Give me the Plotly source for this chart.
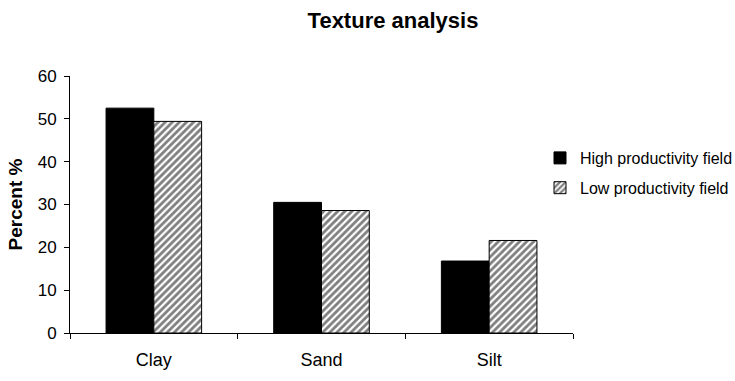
import plotly.graph_objects as go

# Soil texture fractions (percent) for two fields
categories = ["Clay", "Sand", "Silt"]
high_productivity = [52.5, 30.5, 16.8]
low_productivity = [49.4, 28.6, 21.6]
series_names = ["High productivity field", "Low productivity field"]

FONT = "Liberation Sans, Arial, sans-serif"

fig = go.Figure()
fig.add_trace(go.Bar(
    x=categories, y=high_productivity, name=series_names[0],
    legendgroup="a",
    marker=dict(color="black", line=dict(color="black", width=1)),
))
fig.add_trace(go.Bar(
    x=categories, y=low_productivity, name=series_names[1],
    legendgroup="b",
    marker=dict(
        color="white",
        line=dict(color="black", width=1),
        pattern=dict(shape="/", fgcolor="black", bgcolor="white",
                     size=5, solidity=0.55, fillmode="overlay"),
    ),
))

fig.update_layout(
    width=735, height=381,
    margin=dict(l=70, r=162, t=76, b=48, autoexpand=False),
    paper_bgcolor="white", plot_bgcolor="white",
    font=dict(family=FONT, size=16, color="black"),
    barmode="group", bargap=0.43, bargroupgap=0,
    showlegend=True,
    title=dict(text="<b>Texture analysis</b>", x=393 / 735, xref="container",
               xanchor="center", y=1 - 20 / 381, yanchor="middle",
               font=dict(family=FONT, size=22, color="black")),
    legend=dict(x=540 / 735, xref="container", y=1 - 141 / 381, yref="container",
                xanchor="left", yanchor="top", traceorder="grouped",
                tracegroupgap=6, font=dict(family=FONT, size=16),
                itemwidth=30, bgcolor="rgba(0,0,0,0)"),
)

fig.update_xaxes(
    showline=True, linecolor="black", linewidth=1,
    ticks="outside", tickson="boundaries", ticklen=5, tickcolor="black",
    showgrid=False, ticklabelstandoff=10,
    tickfont=dict(family=FONT, size=18),
)
fig.update_yaxes(
    range=[0, 60], dtick=10, showline=True, linecolor="black", linewidth=1,
    ticks="outside", ticklen=5, tickcolor="black", showgrid=False,
    zeroline=False, ticklabelstandoff=4, tickfont=dict(family=FONT, size=17),
    title=dict(text="<b>Percent %</b>", font=dict(family=FONT, size=19), standoff=10),
)

fig.write_html("out.html")
